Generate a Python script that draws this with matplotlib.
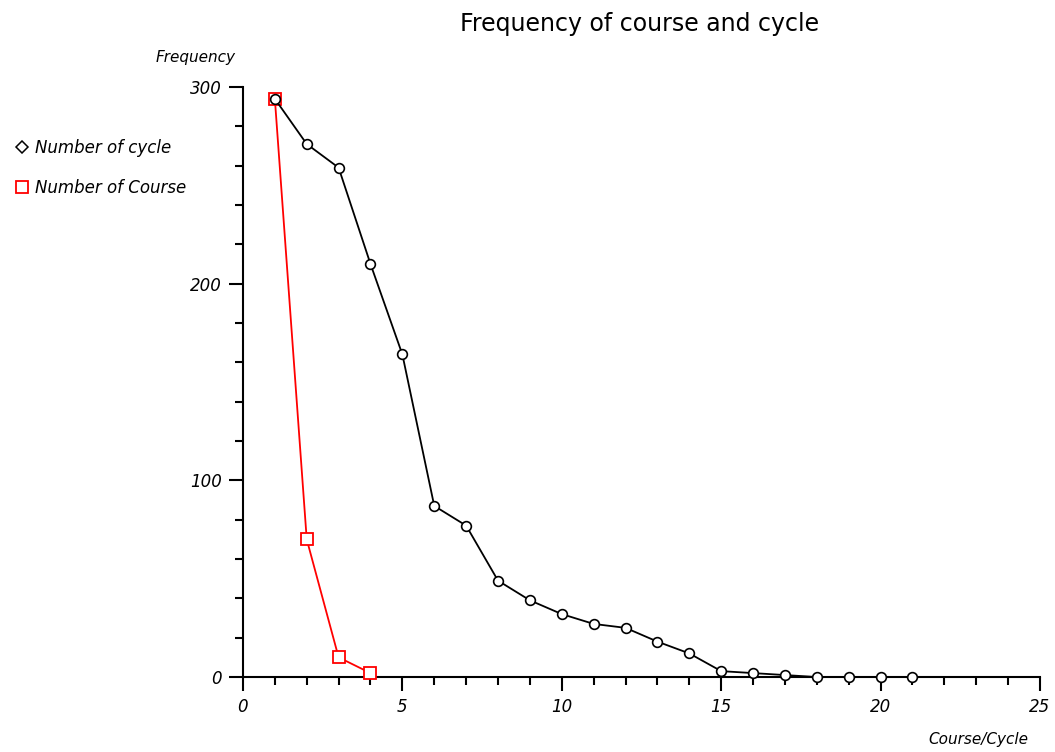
# Frequency of course and cycle
import matplotlib.pyplot as plt
from matplotlib.lines import Line2D
from matplotlib.ticker import MultipleLocator

cycle_x = [1, 2, 3, 4, 5, 6, 7, 8, 9, 10, 11, 12, 13, 14, 15, 16, 17, 18, 19, 20, 21]
cycle_y = [294, 271, 259, 210, 164, 87, 77, 49, 39, 32, 27, 25, 18, 12, 3, 2, 1, 0, 0, 0, 0]

course_x = [1, 2, 3, 4]
course_y = [294, 70, 10, 2]

plt.rcParams['font.family'] = ['DejaVu Sans']

fig = plt.figure(figsize=(10.55, 7.52), dpi=100)
ax = fig.add_axes([0.2303, 0.0997, 0.7555, 0.7846])

# course under cycle (the cycle marker sits inside the red square at x=1)
ax.plot(course_x, course_y, color='#ff0000', lw=1.3, marker='s', ms=9,
        mfc='white', mec='#ff0000', mew=1.3, clip_on=False, zorder=3)
ax.plot(cycle_x, cycle_y, color='black', lw=1.3, marker='o', ms=7,
        mfc='white', mec='black', mew=1.2, clip_on=False, zorder=4)

ax.set_xlim(0, 25)
ax.set_ylim(0, 300)
ax.xaxis.set_major_locator(MultipleLocator(5))
ax.xaxis.set_minor_locator(MultipleLocator(1))
ax.yaxis.set_major_locator(MultipleLocator(100))
ax.yaxis.set_minor_locator(MultipleLocator(20))

for s in ['top', 'right']:
    ax.spines[s].set_visible(False)
for s in ['left', 'bottom']:
    ax.spines[s].set_linewidth(1.5)

ax.tick_params(which='major', direction='out', length=10, width=1.5, labelsize=12, pad=5)
ax.tick_params(which='minor', direction='out', length=6, width=1.5)
for lab in ax.get_xticklabels() + ax.get_yticklabels():
    lab.set_fontstyle('italic')

fig.text(0.6065, 0.968, 'Frequency of course and cycle', ha='center', va='center', fontsize=17)
fig.text(0.185, 0.924, 'Frequency', ha='center', va='center', fontsize=11, style='italic')
fig.text(0.927, 0.016, 'Course/Cycle', ha='center', va='center', fontsize=11, style='italic')

handles = [
    Line2D([], [], ls='none', marker='D', ms=6, mfc='white', mec='black', mew=1.1),
    Line2D([], [], ls='none', marker='s', ms=8, mfc='white', mec='#ff0000', mew=1.3),
]
leg = fig.legend(handles, ['Number of cycle', 'Number of Course'], loc='upper left',
                 bbox_to_anchor=(0.0, 0.835), frameon=False, handlelength=0.8,
                 handletextpad=0.4, labelspacing=1.3, prop={'size': 12, 'style': 'italic'})

fig.savefig('out.png', dpi=100)
